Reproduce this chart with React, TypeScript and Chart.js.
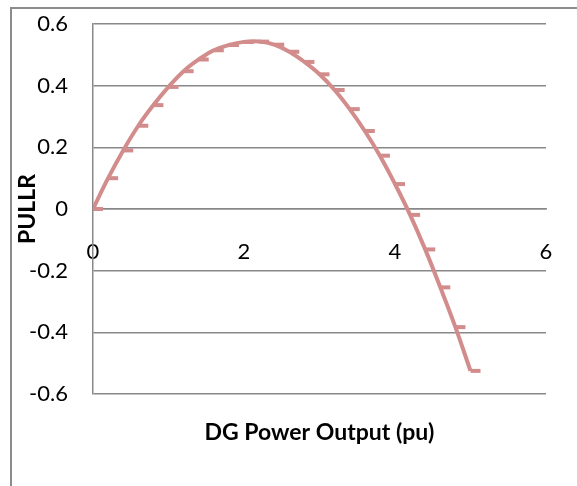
import React, { useEffect, useRef } from "react";
import { Chart, registerables } from "chart.js";

Chart.register(...registerables);

const xValues = [0, 0.2, 0.4, 0.6, 0.8, 1.0, 1.2, 1.4, 1.6, 1.8, 2.0, 2.2, 2.4, 2.6, 2.8, 3.0, 3.2, 3.4, 3.6, 3.8, 4.0, 4.2, 4.4, 4.6, 4.8, 5.0];
const pullrValues = [0, 0.10, 0.19, 0.27, 0.337, 0.396, 0.447, 0.485, 0.515, 0.532, 0.542, 0.543, 0.533, 0.51, 0.477, 0.437, 0.386, 0.324, 0.253, 0.173, 0.081, -0.019, -0.131, -0.254, -0.383, -0.525];
const xTickValues = [0, 2, 4, 6];
const yTickValues = [-0.6, -0.4, -0.2, 0, 0.2, 0.4, 0.6];
const xTitle = "DG Power Output (pu)";
const yTitle = "PULLR";

const LINE_COLOR = "#d38c8c";
const GRID_COLOR = "#888888";
const FONT = "Lato, 'Open Sans', sans-serif";

function makeDash(): HTMLCanvasElement {
  const c = document.createElement("canvas");
  c.width = 22;
  c.height = 6;
  const ctx = c.getContext("2d")!;
  ctx.fillStyle = LINE_COLOR;
  ctx.fillRect(11, 1, 10, 4);
  return c;
}

export default function App() {
  const ref = useRef<HTMLCanvasElement | null>(null);
  useEffect(() => {
    if (!ref.current) return;
    const dash = makeDash();
    const chart = new Chart(ref.current, {
      type: "line",
      data: {
        datasets: [
          {
            data: xValues.map((x, i) => ({ x, y: pullrValues[i] })),
            borderColor: LINE_COLOR,
            backgroundColor: LINE_COLOR,
            borderWidth: 4,
            tension: 0.4,
            pointStyle: dash as any,
            pointRadius: 5,
            fill: false,
          },
        ],
      },
      options: {
        responsive: false,
        animation: false,
        layout: { padding: { left: 0, top: 24, right: 31, bottom: 0 } },
        plugins: {
          legend: { display: false },
          tooltip: { enabled: false },
          title: {
            display: true,
            position: "bottom",
            fullSize: false,
            text: xTitle,
            color: "#000",
            font: { family: FONT, size: 23, weight: "bold", lineHeight: 1.2 },
            padding: { top: 24.4, bottom: 40 },
          },
        },
        scales: {
          x: {
            type: "linear",
            position: { y: 0 } as any,
            min: 0,
            max: 6,
            afterBuildTicks: (s: any) => {
              s.ticks = xTickValues.map((v) => ({ value: v }));
            },
            afterFit: (s: any) => {
              s.paddingLeft = 0;
              s.paddingRight = 0;
            },
            grid: { display: false, drawTicks: false },
            border: { display: true, color: GRID_COLOR, width: 1.5 },
            ticks: {
              color: "#000",
              padding: 30,
              maxRotation: 0,
              font: { family: FONT, size: 22, lineHeight: 1.2 },
              callback: (v: any) => String(v),
            },
          },
          y: {
            type: "linear",
            min: -0.6,
            max: 0.6,
            afterBuildTicks: (s: any) => {
              s.ticks = yTickValues.map((v) => ({ value: v }));
            },
            afterFit: (s: any) => {
              s.width = 93;
              s.paddingTop = 0;
              s.paddingBottom = 0;
            },
            grid: { display: true, color: GRID_COLOR, lineWidth: 1.5, drawTicks: false },
            border: { display: true, color: GRID_COLOR, width: 1.5 },
            ticks: {
              color: "#000",
              padding: 25,
              font: { family: FONT, size: 22, lineHeight: 1.2 },
              callback: (v: any) => String(Number(Number(v).toFixed(1))),
            },
            title: {
              display: true,
              text: yTitle,
              color: "#000",
              font: { family: FONT, size: 23, weight: "bold", lineHeight: 1.2 },
              padding: { top: 14, bottom: 0 },
            },
          },
        },
      },
    });
    return () => chart.destroy();
  }, []);

  return (
    <div style={{ position: "fixed", left: 0, top: 0, width: 577, height: 486, overflow: "hidden", background: "#fff" }}>
      <div
        style={{
          position: "absolute",
          left: 10,
          top: 7,
          width: 800,
          height: 800,
          borderLeft: "2px solid #8c8c8c",
          borderTop: "2px solid #8c8c8c",
        }}
      />
      <canvas ref={ref} width={577} height={486} style={{ position: "absolute", left: 0, top: 0 }} />
    </div>
  );
}
